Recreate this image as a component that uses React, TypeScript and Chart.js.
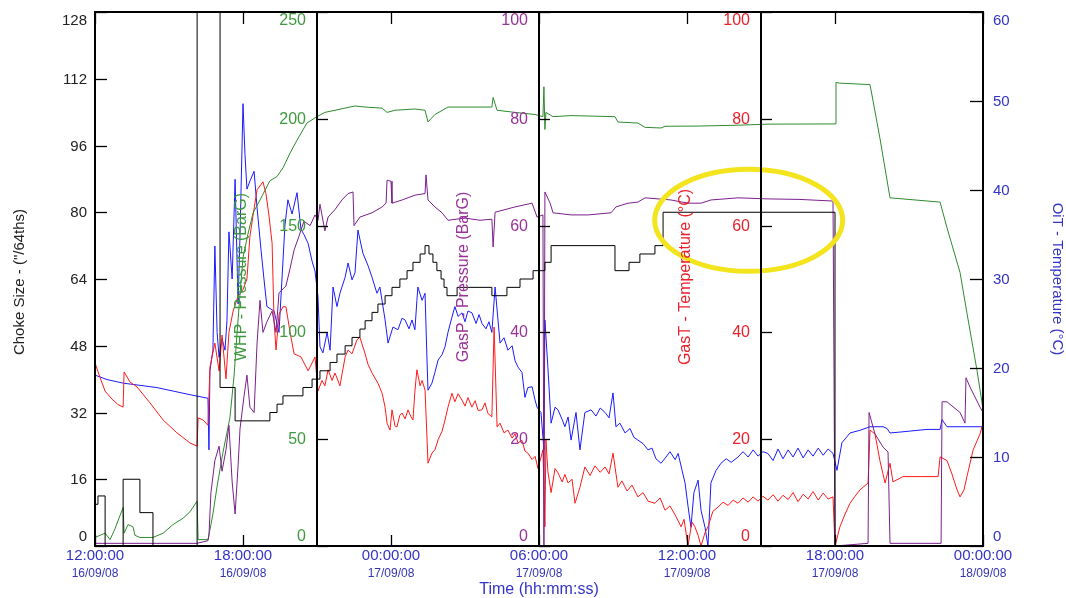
import React, { useEffect, useRef } from "react";
import { Chart, registerables } from "chart.js";

Chart.register(...registerables);

// ---- Time axis (hours since 12:00:00 16/09/08) ----
const xTickHours = [0, 6, 12, 18, 24, 30, 36];
const xTimeLabels = ["12:00:00", "18:00:00", "00:00:00", "06:00:00", "12:00:00", "18:00:00", "00:00:00"];
const xDateLabels = ["16/09/08", "16/09/08", "17/09/08", "17/09/08", "17/09/08", "17/09/08", "18/09/08"];

// ---- Axis ticks ----
const chokeTicks = [0, 16, 32, 48, 64, 80, 96, 112, 128];
const whpTicks = [0, 50, 100, 150, 200, 250];
const gasPTicks = [0, 20, 40, 60, 80, 100];
const gasTTicks = [0, 20, 40, 60, 80, 100];
const oitTicks = [0, 10, 20, 30, 40, 50, 60];

// ---- Choke Size ("/64ths), step series ----
const chokeTimes = [0, 0.12, 0.41, 1.14, 1.82, 2.35, 4.14, 5.07, 5.68, 7.09, 7.38, 7.62, 8.43, 8.8, 9.12, 9.53, 9.81, 10.14, 10.42, 10.74, 10.95, 11.23, 11.47, 11.76, 12.04, 12.36, 12.65, 12.89, 13.18, 13.38, 13.54, 13.7, 13.86, 14.03, 14.15, 14.27, 14.68, 16.09, 16.7, 17.23, 17.76, 18.24, 18.49, 21.08, 21.65, 22.09, 22.7, 23.03, 30.0, 36];
const chokeValues = [10, 12, 0, 16, 8, 0, 128, 38, 30, 32, 34, 36, 38, 40, 42, 44, 46, 48, 50, 52, 54, 56, 58, 60, 62, 64, 66, 68, 70, 72, 70, 68, 66, 64, 62, 60, 62, 60, 62, 64, 66, 68, 72, 66, 68, 70, 72, 80, 0, 0];

// ---- WHP - Pressure (BarG) ----
const whpTimes = [0, 0.2, 0.41, 0.61, 0.81, 0.97, 1.14, 1.18, 1.34, 1.54, 1.62, 1.82, 2.35, 2.76, 3.16, 3.57, 3.85, 4.14, 4.18, 4.58, 4.7, 4.78, 4.95, 5.19, 5.47, 5.64, 5.76, 5.88, 6.0, 6.2, 6.41, 6.69, 7.09, 7.38, 7.62, 7.91, 8.19, 8.59, 9.0, 9.32, 9.73, 10.54, 10.95, 11.64, 11.84, 12.16, 12.97, 13.38, 13.5, 13.78, 14.31, 16.09, 16.14, 16.3, 17.03, 17.84, 18.16, 18.2, 18.24, 18.28, 18.57, 19.3, 21.08, 21.2, 22.01, 22.3, 22.95, 23.11, 24.45, 26.07, 27.28, 30.0, 30.04, 30.2, 31.42, 31.82, 32.23, 34.26, 34.54, 35.07, 35.35, 35.76, 36];
const whpValues = [4, 5, 6, 3, 8, 13, 18, 6, 10, 9, 5, 4, 4, 6, 10, 13, 16, 21, 3, 3, 10, 15, 28, 44, 60, 80, 100, 118, 135, 146, 156, 162, 171, 173, 177, 184, 190, 198, 201, 203, 204, 206, 205.5, 205, 203, 204, 204.6, 204, 198.5, 202, 205.5, 205.5, 210, 204, 203, 202, 201, 215, 195, 203, 201, 201.5, 201, 198.5, 198, 196, 195.7, 196.5, 196.6, 197, 197.5, 197.6, 217, 216.7, 216, 191, 163, 161, 149, 128, 109, 82, 64];

// ---- GasP - Pressure (BarG) ----
const gasPTimes = [0, 4.14, 4.58, 4.62, 4.7, 4.86, 5.03, 5.15, 5.31, 5.43, 5.56, 5.68, 5.8, 5.88, 6.04, 6.16, 6.28, 6.45, 6.57, 6.69, 6.81, 6.97, 7.18, 7.34, 7.46, 7.74, 7.91, 8.07, 8.27, 8.47, 8.72, 8.92, 9.04, 9.12, 9.32, 9.45, 9.73, 10.01, 10.26, 10.46, 10.5, 10.74, 11.23, 11.64, 11.8, 11.84, 12.0, 12.04, 12.45, 12.97, 13.38, 13.42, 13.5, 13.78, 14.07, 14.31, 15.0, 15.61, 16.09, 16.14, 16.22, 17.03, 17.72, 17.92, 18.16, 18.2, 18.24, 18.45, 18.57, 19.3, 19.99, 20.92, 21.12, 21.61, 22.01, 22.3, 23.35, 24.04, 24.57, 24.97, 26.07, 27.28, 28.58, 29.92, 30.0, 31.34, 31.38, 31.62, 31.95, 32.15, 32.23, 34.3, 34.34, 34.54, 35.07, 35.27, 35.31, 35.47, 35.88, 36];
const gasPValues = [0.5, 0.5, 1, 2, 10, 16, 18.7, 14, 18, 22.6, 12, 6, 15, 22, 28, 32, 26, 25, 38, 46, 40, 42, 44, 40, 47.4, 48.7, 52, 55.4, 58, 60.8, 60, 62, 61, 64, 59, 61.6, 63, 64.8, 66, 66.3, 60, 61.6, 62.4, 63.5, 64.2, 68.5, 68.3, 64.2, 64.8, 65.7, 66, 69.5, 64.8, 63.5, 62.4, 61, 61.4, 61, 61.2, 56, 62.5, 63.5, 64.2, 61.6, 62, 0, 66.3, 64.2, 62.4, 62, 62, 62.4, 63.5, 64.2, 64.4, 65.2, 64.8, 64.2, 64.2, 64.8, 65.2, 65, 64.9, 64.6, 0, 0.5, 25, 21, 18.5, 17.6, 0.5, 0.5, 27, 27, 25, 23, 31.5, 29.8, 26, 25];

// ---- GasT - Temperature (°C) ----
const gasTTimes = [0, 0.2, 0.41, 0.69, 0.93, 1.14, 1.18, 1.42, 1.7, 2.23, 2.76, 3.32, 3.85, 4.14, 4.18, 4.38, 4.58, 4.66, 4.86, 5.03, 5.15, 5.31, 5.43, 5.6, 5.8, 6.0, 6.16, 6.28, 6.41, 6.57, 6.81, 6.93, 7.05, 7.18, 7.26, 7.34, 7.46, 7.62, 7.74, 7.91, 8.07, 8.35, 8.64, 8.92, 9.04, 9.2, 9.32, 9.45, 9.61, 9.73, 9.93, 10.14, 10.26, 10.42, 10.62, 10.74, 10.95, 11.07, 11.23, 11.47, 11.64, 11.76, 11.84, 11.96, 12.04, 12.16, 12.24, 12.36, 12.45, 12.57, 12.69, 12.81, 12.89, 12.97, 13.05, 13.18, 13.26, 13.38, 13.5, 13.66, 13.78, 13.91, 14.07, 14.19, 14.31, 14.47, 14.59, 14.72, 14.88, 15.0, 15.12, 15.28, 15.41, 15.53, 15.69, 15.81, 15.93, 16.09, 16.18, 16.3, 16.42, 16.58, 16.74, 16.91, 17.03, 17.15, 17.31, 17.43, 17.55, 17.72, 17.84, 17.96, 18.16, 18.24, 18.28, 18.36, 18.49, 18.65, 18.77, 18.94, 19.05, 19.18, 19.34, 19.46, 19.66, 19.86, 20.07, 20.27, 20.48, 20.68, 20.84, 21.0, 21.2, 21.36, 21.57, 21.77, 22.01, 22.22, 22.42, 22.7, 22.91, 23.11, 23.31, 23.52, 23.76, 23.88, 24.04, 24.2, 24.32, 24.45, 24.57, 24.73, 24.85, 25.05, 25.26, 25.46, 25.67, 25.87, 26.07, 26.27, 26.48, 26.68, 26.88, 27.08, 27.28, 27.49, 27.69, 27.89, 28.1, 28.3, 28.5, 28.71, 28.91, 29.11, 29.32, 29.52, 29.72, 29.92, 30.0, 30.2, 30.41, 30.61, 30.81, 31.01, 31.34, 31.42, 31.62, 31.82, 32.03, 32.23, 32.35, 32.76, 33.45, 34.18, 34.26, 34.54, 34.74, 34.95, 35.07, 35.23, 35.35, 35.6, 35.88, 36];
const gasTValues = [34.3, 31.6, 29, 27.5, 26.5, 26, 32.6, 30.7, 29.8, 26.8, 23.6, 21.2, 19.3, 18.7, 24, 23.6, 22.6, 33.5, 38, 32.8, 39.5, 31.3, 40, 44, 46.8, 48, 50, 58, 62, 66.7, 68.2, 66, 62, 56.7, 42, 36.7, 43.4, 44.8, 44.8, 40, 36, 35.4, 32.8, 35.4, 29, 31, 30, 33, 31, 32.4, 30, 35.4, 36.7, 36, 38.6, 39.1, 36, 34, 32.4, 30.5, 28.6, 26, 23, 21.7, 25.5, 22.5, 22.3, 24.5, 24.9, 23.8, 25.5, 24.2, 23.6, 29, 33, 30, 31, 29.2, 15.5, 17.4, 18, 19.9, 21.5, 23.6, 26, 28.6, 27, 28.5, 27.3, 26.2, 27.8, 26, 27.2, 25.4, 25.5, 26.8, 24.8, 24.2, 41, 22.3, 23, 21.2, 21.7, 20.2, 21, 19.3, 19.8, 17.8, 17.4, 16.2, 16.8, 14.5, 18, 3.6, 19.9, 14, 10, 14.5, 13.7, 12, 13.4, 11.8, 12.5, 8, 11, 14.8, 13.2, 15, 13.8, 14.8, 13.5, 17.4, 11, 12.2, 10.3, 11.4, 9.2, 10, 8.4, 8, 9, 6.7, 7.5, 5.8, 3.6, 5, 0, 4.5, 3.6, 2, 0, 2.5, 3.6, 6.5, 7.3, 8.2, 7.6, 8.6, 8, 9, 8.2, 9.2, 8.4, 9.3, 8.6, 9.6, 8.4, 9.5, 8.7, 10, 8.3, 9.7, 8.8, 10.2, 8.6, 9.9, 8.8, 9.2, 0, 3.6, 6, 8, 9.3, 10.5, 11.8, 21.7, 21, 16, 11.8, 15.5, 12, 13, 13, 13, 16.7, 16, 13.5, 10.5, 9.2, 10.5, 13, 18, 21, 23];

// ---- OiT - Temperature (°C) ----
const oitTimes = [0, 0.49, 1.14, 2.51, 3.85, 4.58, 4.62, 4.66, 4.78, 4.86, 4.95, 5.03, 5.15, 5.27, 5.35, 5.43, 5.56, 5.68, 5.8, 5.88, 6.0, 6.08, 6.16, 6.28, 6.45, 6.57, 6.73, 6.85, 6.97, 7.26, 7.46, 7.58, 7.7, 7.82, 7.99, 8.19, 8.35, 8.47, 8.64, 8.8, 8.92, 9.04, 9.12, 9.24, 9.41, 9.53, 9.65, 9.81, 9.93, 10.14, 10.26, 10.42, 10.54, 10.66, 10.86, 11.07, 11.23, 11.43, 11.55, 11.76, 11.88, 12.08, 12.28, 12.45, 12.57, 12.73, 12.85, 12.97, 13.05, 13.09, 13.26, 13.38, 13.46, 13.5, 13.66, 13.78, 13.91, 14.07, 14.19, 14.31, 14.47, 14.59, 14.72, 14.88, 15.0, 15.12, 15.28, 15.45, 15.57, 15.69, 15.85, 15.97, 16.09, 16.22, 16.42, 16.58, 16.74, 16.91, 17.03, 17.15, 17.31, 17.43, 17.55, 17.72, 17.84, 17.92, 18.08, 18.2, 18.24, 18.36, 18.49, 18.65, 18.77, 18.94, 19.05, 19.18, 19.3, 19.5, 19.66, 19.86, 20.11, 20.31, 20.48, 20.68, 20.84, 21.0, 21.12, 21.28, 21.49, 21.69, 21.85, 22.01, 22.22, 22.42, 22.58, 22.74, 22.95, 23.15, 23.31, 23.52, 23.64, 23.8, 23.92, 24.04, 24.16, 24.28, 24.45, 24.57, 24.73, 24.85, 24.97, 25.18, 25.38, 25.59, 25.79, 26.07, 26.27, 26.48, 26.68, 26.88, 27.08, 27.28, 27.49, 27.69, 27.89, 28.1, 28.3, 28.5, 28.71, 28.91, 29.11, 29.32, 29.52, 29.72, 29.92, 30.08, 30.28, 30.61, 31.01, 31.42, 31.95, 32.11, 32.23, 32.63, 33.73, 34.26, 34.34, 34.54, 35.07, 36];
const oitValues = [19.2, 18.7, 18.3, 17.8, 17, 16.6, 10.8, 19.7, 22, 33.7, 24, 21.2, 23.3, 22, 25.3, 35.3, 30, 41.2, 27.2, 35, 49.7, 44, 40.1, 41, 42.1, 38, 33.3, 30, 26.9, 26.4, 24, 30, 36, 38.9, 37.3, 39.7, 35.6, 35, 34, 32, 30.9, 28, 22.4, 21.7, 24, 22, 29.1, 26.9, 28.4, 30.2, 31.8, 29.9, 30.7, 35.5, 32.9, 31.5, 30.2, 28.4, 29.1, 25.4, 22.8, 24.6, 24.3, 25.6, 25.4, 24.4, 25.4, 24.3, 27.6, 29.1, 27.6, 28.4, 20.9, 17.5, 18.3, 19.5, 20.9, 21.5, 22.4, 24, 25.7, 26.9, 25.8, 26.2, 25.2, 26.4, 26.2, 25, 26, 25, 24.4, 25.2, 24, 29.1, 22.8, 23.4, 22, 22.5, 20.8, 20.1, 19.5, 16.7, 17.8, 17.9, 16.4, 15.6, 15, 10.8, 25.4, 20.1, 13.8, 15.6, 15.3, 14.2, 13.4, 14.5, 11.9, 15, 10.8, 15, 15.3, 14.6, 15.5, 15, 14.4, 17.2, 13.4, 13.8, 12.7, 13.2, 12.2, 11.9, 11.5, 10.8, 11, 9.8, 9.3, 10, 10.6, 9.7, 10.4, 8.5, 7.1, 4.5, 2.1, 6, 7.4, 4, 2.1, 0, 7.1, 8.5, 9.3, 9.8, 9.4, 10, 10.6, 10, 10.8, 10.1, 10.6, 10.4, 9.6, 10.9, 9.8, 10.8, 10, 11, 9.9, 10.8, 10.1, 11, 10.2, 10.9, 10.4, 8.5, 11.6, 12.7, 13, 13.4, 13.4, 13.2, 12.7, 12.8, 13.1, 13.1, 14.2, 13.4, 13.4, 13.4];

const FONT = '"Liberation Sans", Arial, Helvetica, sans-serif';
const C_BLACK = "#000000";
const C_GREEN = "#2e8b2e";
const C_PURPLE = "#7b1f8c";
const C_RED = "#ff1a1a";
const C_BLUE = "#1a1aff";
const L_GREEN = "#3f9a3f";
const L_PURPLE = "#993399";
const L_RED = "#e8222a";
const L_BLUE = "#3333c8";

const zip = (t: number[], v: number[]) => t.map((x, i) => ({ x, y: v[i] }));

const overlayPlugin = {
  id: "wellOverlay",
  afterDatasetsDraw(chart: any) {
    const { ctx, chartArea: a, scales } = chart;
    const xs = scales.x;
    const clampY = (y: number) => Math.max(a.top + 9, Math.min(a.bottom - 9, y));
    ctx.save();

    // yellow highlight ellipse
    ctx.beginPath();
    ctx.ellipse(xs.getPixelForValue(26.5), scales.yT.getPixelForValue(61), 94, 51, 0, 0, Math.PI * 2);
    ctx.strokeStyle = "#f3e41e";
    ctx.lineWidth = 5;
    ctx.stroke();

    // frame and inner axis lines
    ctx.strokeStyle = "#000";
    ctx.lineWidth = 2;
    ctx.strokeRect(a.left, a.top, a.right - a.left, a.bottom - a.top);
    const innerX = [9, 18, 27].map((h) => Math.round(xs.getPixelForValue(h)));
    innerX.forEach((x) => {
      ctx.beginPath();
      ctx.moveTo(x, a.top);
      ctx.lineTo(x, a.bottom);
      ctx.stroke();
    });

    ctx.lineWidth = 1.3;
    // x ticks (top and bottom)
    xTickHours.forEach((h) => {
      const x = Math.round(xs.getPixelForValue(h)) + 0.5;
      ctx.beginPath();
      ctx.moveTo(x, a.bottom);
      ctx.lineTo(x, a.bottom - 11);
      ctx.moveTo(x, a.top);
      ctx.lineTo(x, a.top + 12);
      ctx.stroke();
    });
    ctx.textAlign = "center";
    ctx.textBaseline = "middle";
    xTickHours.forEach((h, i) => {
      const x = xs.getPixelForValue(h);
      ctx.fillStyle = L_BLUE;
      ctx.font = `15px ${FONT}`;
      ctx.fillText(xTimeLabels[i], x, a.bottom + 10);
      ctx.fillStyle = "#3434b4";
      ctx.font = `12px ${FONT}`;
      ctx.fillText(xDateLabels[i], x, a.bottom + 28);
    });
    ctx.fillStyle = L_BLUE;
    ctx.font = `16px ${FONT}`;
    ctx.fillText("Time (hh:mm:ss)", (a.left + a.right) / 2, a.bottom + 44);

    // left axis (choke)
    const yC = scales.yC;
    ctx.strokeStyle = "#000";
    ctx.fillStyle = "#222";
    ctx.font = `15px ${FONT}`;
    ctx.textAlign = "right";
    chokeTicks.forEach((v) => {
      const y = Math.round(yC.getPixelForValue(v)) + 0.5;
      ctx.beginPath();
      ctx.moveTo(a.left, y);
      ctx.lineTo(a.left + 12, y);
      ctx.stroke();
      ctx.fillText(String(v), a.left - 8, clampY(y));
    });

    // right axis (OiT)
    const yO = scales.yO;
    ctx.fillStyle = L_BLUE;
    ctx.textAlign = "left";
    oitTicks.forEach((v) => {
      const y = Math.round(yO.getPixelForValue(v)) + 0.5;
      ctx.beginPath();
      ctx.moveTo(a.right, y);
      ctx.lineTo(a.right - 13, y);
      ctx.stroke();
      ctx.fillText(String(v), a.right + 10, clampY(y));
    });

    // inner axes
    const inner = [
      { x: innerX[0], scale: scales.yW, ticks: whpTicks, color: L_GREEN, title: "WHP - Pressure (BarG)" },
      { x: innerX[1], scale: scales.yP, ticks: gasPTicks, color: L_PURPLE, title: "GasP - Pressure (BarG)" },
      { x: innerX[2], scale: scales.yT, ticks: gasTTicks, color: L_RED, title: "GasT - Temperature (°C)" },
    ];
    inner.forEach((ax) => {
      ctx.textAlign = "right";
      ctx.font = `16px ${FONT}`;
      ax.ticks.forEach((v) => {
        const y = Math.round(ax.scale.getPixelForValue(v)) + 0.5;
        ctx.beginPath();
        ctx.moveTo(ax.x, y);
        ctx.lineTo(ax.x + 11, y);
        ctx.stroke();
        ctx.fillStyle = ax.color;
        ctx.fillText(String(v), ax.x - 11, clampY(y));
      });
      ctx.save();
      ctx.translate(ax.x - 75, (a.top + a.bottom) / 2 - 2);
      ctx.rotate(-Math.PI / 2);
      ctx.textAlign = "center";
      ctx.fillStyle = ax.color;
      ctx.font = `16px ${FONT}`;
      ctx.fillText(ax.title, 0, 0);
      ctx.restore();
    });

    // outer axis titles
    ctx.save();
    ctx.translate(20, (a.top + a.bottom) / 2 + 3);
    ctx.rotate(-Math.PI / 2);
    ctx.textAlign = "center";
    ctx.fillStyle = "#222";
    ctx.font = `15px ${FONT}`;
    ctx.fillText('Choke Size - ("/64ths)', 0, 0);
    ctx.restore();

    ctx.save();
    ctx.translate(1057, (a.top + a.bottom) / 2);
    ctx.rotate(Math.PI / 2);
    ctx.textAlign = "center";
    ctx.fillStyle = L_BLUE;
    ctx.font = `15px ${FONT}`;
    ctx.fillText("OiT - Temperature (°C)", 0, 0);
    ctx.restore();

    ctx.restore();
  },
};

export default function App() {
  const canvasRef = useRef<HTMLCanvasElement | null>(null);

  useEffect(() => {
    if (!canvasRef.current) return;
    const line = (label: string, data: any, axis: string, color: string, order: number, stepped = false) => ({
      label,
      data,
      yAxisID: axis,
      borderColor: color,
      backgroundColor: color,
      borderWidth: 1,
      pointRadius: 0,
      tension: 0,
      stepped,
      order,
      fill: false,
    });
    const chart = new Chart(canvasRef.current, {
      type: "line",
      data: {
        datasets: [
          line("Choke Size", zip(chokeTimes, chokeValues), "yC", C_BLACK, 0, true),
          line("GasP - Pressure", zip(gasPTimes, gasPValues), "yP", C_PURPLE, 1),
          line("WHP - Pressure", zip(whpTimes, whpValues), "yW", C_GREEN, 2),
          line("GasT - Temperature", zip(gasTTimes, gasTValues), "yT", C_RED, 3),
          line("OiT - Temperature", zip(oitTimes, oitValues), "yO", C_BLUE, 4),
        ] as any,
      },
      options: {
        animation: false,
        responsive: false,
        maintainAspectRatio: false,
        devicePixelRatio: 1,
        layout: { padding: { left: 95, top: 12, right: 83, bottom: 52 } },
        plugins: { legend: { display: false }, tooltip: { enabled: false } },
        scales: {
          x: { type: "linear", min: 0, max: 36, display: false },
          yC: { type: "linear", min: 0, max: 128, display: false },
          yW: { type: "linear", min: 0, max: 250, display: false },
          yP: { type: "linear", min: 0, max: 100, display: false },
          yT: { type: "linear", min: 0, max: 100, display: false },
          yO: { type: "linear", min: 0, max: 60, display: false },
        },
      } as any,
      plugins: [overlayPlugin],
    });
    return () => chart.destroy();
  }, []);

  return (
    <div style={{ position: "absolute", left: 0, top: 0, width: 1066, height: 598, background: "#fff" }}>
      <canvas ref={canvasRef} width={1066} height={598} />
    </div>
  );
}
